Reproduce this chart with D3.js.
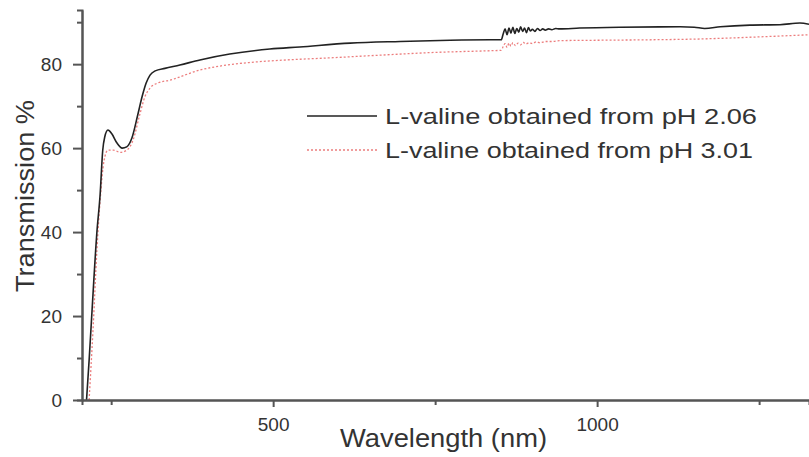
<!DOCTYPE html>
<html>
<head>
<meta charset="UTF-8">
<title>Transmission spectra</title>
<script src="https://cdnjs.cloudflare.com/ajax/libs/d3/7.8.5/d3.min.js"></script>
<style>
    body { margin: 0; background: #fff; }
    text { font-family: Arial, "Liberation Sans", sans-serif; fill: #333; }
</style>
</head>
<body>
<div id="chart"></div>
<script>
// pH 2.06 sample
const wlA = [212, 216, 220, 228, 233, 237, 240, 245, 251, 259, 267, 274, 282, 291, 298, 304, 310, 318,
    333, 356, 387, 433, 495, 541, 619, 696, 773, 835, 852,
    855, 858, 861, 864, 867, 870, 873, 876, 879, 882, 885, 888, 891, 894, 897, 900, 904, 908, 912,
    916, 920, 925, 930, 936, 942,
    973, 1035, 1128, 1150, 1166, 1190, 1236, 1282, 1313, 1327];
const tA = [0, 9.5, 20, 40, 49, 59.5, 62.6, 64.3, 63.4, 61.2, 60, 60.3, 62.4, 67.9, 72.4, 75.5, 77.4, 78.4,
    79, 79.8, 81, 82.4, 83.6, 84.1, 85, 85.4, 85.7, 85.8, 85.8,
    87.2, 88.4, 87.0, 88.6, 87.4, 88.8, 87.3, 88.5, 87.6, 88.9, 87.8, 88.6, 87.5, 88.7, 87.9, 88.3, 87.8, 88.5, 88.0,
    88.4, 88.1, 88.4, 88.2, 88.5, 88.4,
    88.6, 88.8, 88.9, 88.8, 88.5, 88.9, 89.3, 89.4, 89.8, 89.5];

// pH 3.01 sample
const wlB = [216, 222, 228, 233, 239, 245, 254, 264, 274, 284, 294, 302, 310, 322, 341, 387, 420, 464,
    520, 588, 660, 750, 835, 852,
    855, 858, 861, 864, 867, 870, 874, 878, 882, 886, 890, 895, 900, 906, 912, 920, 930, 942,
    1004, 1080, 1159, 1251, 1327];
const tB = [0, 16.7, 35.7, 47.6, 57, 59.5, 59.5, 59, 59.5, 62, 67.9, 72.2, 74.3, 75.5, 76.2, 78.6, 79.6, 80.4,
    81, 81.5, 82.1, 82.8, 83.2, 83.3,
    84.2, 84.9, 84.0, 85.0, 84.3, 85.1, 84.4, 85.0, 84.6, 85.2, 84.8, 85.1, 84.9, 85.3, 85.1, 85.4, 85.4, 85.6,
    85.7, 85.8, 86.0, 86.5, 87.0];

const seriesNames = ['L-valine obtained from pH 2.06', 'L-valine obtained from pH 3.01'];
const xMajor = [500, 1000];
const xMinor = [250, 750, 1250];
const yMajor = [0, 20, 40, 60, 80];
const yMinor = [10, 30, 50, 70, 90];

const width = 809;
const height = 457;

const svg = d3.select('#chart')
    .append('svg')
    .attr('width', width)
    .attr('height', height);

svg.append('rect')
    .attr('width', width)
    .attr('height', height)
    .attr('fill', '#fff');

const x = d3.scaleLinear()
    .domain([205, 1327])
    .range([82, 809]);

const y = d3.scaleLinear()
    .domain([0, 92.9])
    .range([400, 10]);

const line = d3.line()
    .curve(d3.curveMonotoneX)
    .x(d => x(d[0]))
    .y(d => y(d[1]));

// curves
svg.append('path')
    .datum(wlB.map((w, i) => [w, tB[i]]))
    .attr('fill', 'none')
    .attr('stroke', '#ec7d7d')
    .attr('stroke-width', 1.3)
    .attr('stroke-dasharray', '2,2')
    .attr('d', line);

svg.append('path')
    .datum(wlA.map((w, i) => [w, tA[i]]))
    .attr('fill', 'none')
    .attr('stroke', '#222')
    .attr('stroke-width', 1.6)
    .attr('d', line);

// axes
function styleAxis(g) {
    g.selectAll('.domain').attr('stroke', '#555').attr('stroke-width', 2);
    g.selectAll('.tick line').attr('stroke', '#555').attr('stroke-width', 2);
    g.selectAll('.tick text').style('font-size', '19px').attr('fill', '#333');
}

svg.append('g')
    .attr('transform', 'translate(0,400)')
    .call(d3.axisBottom(x).tickValues(xMinor).tickSize(5).tickFormat(''))
    .call(styleAxis);

svg.append('g')
    .attr('transform', 'translate(0,400)')
    .call(d3.axisBottom(x).tickValues(xMajor).tickFormat(d3.format('d'))
        .tickSizeInner(7).tickSizeOuter(0).tickPadding(11))
    .call(styleAxis);

svg.append('g')
    .attr('transform', 'translate(82,0)')
    .call(d3.axisLeft(y).tickValues(yMinor).tickSize(5).tickFormat(''))
    .call(styleAxis);

svg.append('g')
    .attr('transform', 'translate(82,0)')
    .call(d3.axisLeft(y).tickValues(yMajor).tickSizeInner(9).tickSizeOuter(0).tickPadding(11))
    .call(styleAxis);

// axis titles
svg.append('text')
    .attr('x', 340)
    .attr('y', 447)
    .attr('textLength', 207)
    .attr('lengthAdjust', 'spacingAndGlyphs')
    .style('font-size', '26px')
    .text('Wavelength (nm)');

svg.append('text')
    .attr('transform', 'translate(34,292) rotate(-90)')
    .attr('textLength', 192)
    .attr('lengthAdjust', 'spacingAndGlyphs')
    .style('font-size', '26px')
    .text('Transmission %');

// legend
const legend = svg.append('g');
const legendY = [116, 150];
const legendLen = [372, 368];

legend.append('line')
    .attr('x1', 307).attr('x2', 377)
    .attr('y1', legendY[0]).attr('y2', legendY[0])
    .attr('stroke', '#222').attr('stroke-width', 1.6);

legend.append('line')
    .attr('x1', 307).attr('x2', 377)
    .attr('y1', legendY[1]).attr('y2', legendY[1])
    .attr('stroke', '#ec7d7d').attr('stroke-width', 1.3)
    .attr('stroke-dasharray', '2,2');

legend.selectAll('text.leg')
    .data(seriesNames)
    .enter()
    .append('text')
    .attr('class', 'leg')
    .attr('x', 385)
    .attr('y', (d, i) => legendY[i] + 8)
    .attr('textLength', (d, i) => legendLen[i])
    .attr('lengthAdjust', 'spacingAndGlyphs')
    .style('font-size', '22px')
    .text(d => d);
</script>
</body>
</html>
